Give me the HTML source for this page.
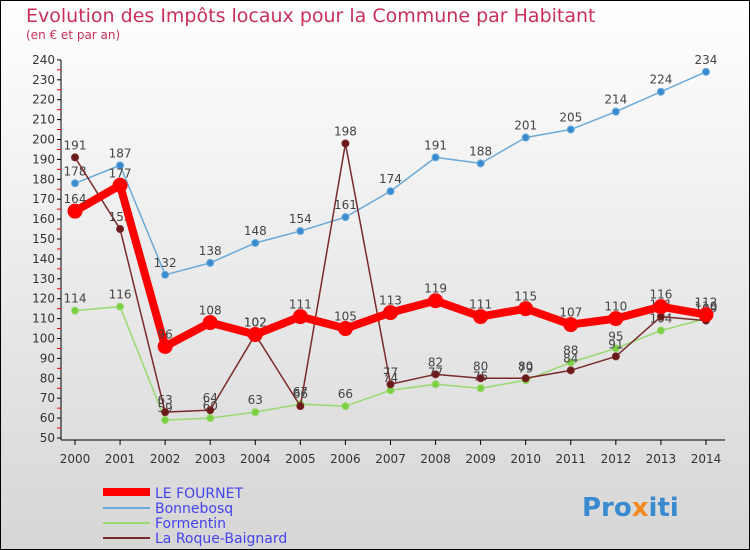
<!DOCTYPE html>
<html><head><meta charset="utf-8"><style>
body{margin:0}
svg{display:block;font-family:"DejaVu Sans","Liberation Sans",sans-serif}
</style></head><body>
<svg id="c" width="750" height="550" viewBox="0 0 750 550">
<defs><linearGradient id="bg" x1="0" y1="0" x2="0" y2="1"><stop offset="0" stop-color="#ffffff"/><stop offset="1" stop-color="#d6d6d6"/></linearGradient></defs>
<rect x="0.5" y="0.5" width="749" height="549" fill="url(#bg)" stroke="#000"/>
<text x="26" y="22" font-size="19" fill="#c8305a">Evolution des Impôts locaux pour la Commune par Habitant</text>
<text x="26" y="39" font-size="12" fill="#c8305a">(en € et par an)</text>
<g id="axes"></g><g id="series"></g>
<g>
<line x1="103" y1="492" x2="150" y2="492" stroke="#ff0000" stroke-width="8"/>
<text x="155" y="498" font-size="14" fill="#4444ee">LE FOURNET</text>
<line x1="103" y1="508" x2="150" y2="508" stroke="#6aaad8" stroke-width="2"/>
<text x="155" y="513" font-size="14" fill="#4444ee">Bonnebosq</text>
<line x1="103" y1="523" x2="150" y2="523" stroke="#9ad870" stroke-width="2"/>
<text x="155" y="528" font-size="14" fill="#4444ee">Formentin</text>
<line x1="103" y1="538" x2="150" y2="538" stroke="#7a2a2a" stroke-width="2"/>
<text x="155" y="543" font-size="14" fill="#4444ee">La Roque-Baignard</text>
</g>
<text x="582" y="516" font-size="26" font-weight="bold" fill="#3a8ad0">Pro<tspan fill="#f08a20">x</tspan>iti</text>
</svg>
<script>
const years=[2000,2001,2002,2003,2004,2005,2006,2007,2008,2009,2010,2011,2012,2013,2014];
const yTicks=[50,60,70,80,90,100,110,120,130,140,150,160,170,180,190,200,210,220,230,240];
const leFournet=[164,177,96,108,102,111,105,113,119,111,115,107,110,116,112];
const bonnebosq=[178,187,132,138,148,154,161,174,191,188,201,205,214,224,234];
const formentin=[114,116,59,60,63,67,66,74,77,75,79,88,95,104,110];
const laRoque=[191,155,63,64,102,66,198,77,82,80,80,84,91,111,109];
const NS='http://www.w3.org/2000/svg';
const xs=i=>75+i*45.07;
const ys=v=>438-(v-50)*19.9/10;
function mk(t,a,p){const e=document.createElementNS(NS,t);for(const k in a)e.setAttribute(k,a[k]);p.appendChild(e);return e;}
const ax=document.getElementById('axes');
let l=mk('line',{x1:61,y1:60,x2:61,y2:440,stroke:'#000'},ax);


l=mk('line',{x1:61,y1:440,x2:725,y2:440,stroke:'#000'},ax);


yTicks.forEach(v=>{
 const y=ys(v);
 mk('line',{x1:57,y1:y,x2:61,y2:y,stroke:'#000'},ax);
 if(v<240)mk('line',{x1:57,y1:ys(v+5),x2:61,y2:ys(v+5),stroke:'#e00'},ax);
 const t=mk('text',{x:55,y:y+4,'font-size':12,'text-anchor':'end',fill:'#333'},ax);t.textContent=v;
 
 
});
years.forEach((yr,i)=>{
 mk('line',{x1:xs(i),y1:440,x2:xs(i),y2:445,stroke:'#000'},ax);
 const t=mk('text',{x:xs(i),y:463,'font-size':12,'text-anchor':'middle',fill:'#333'},ax);t.textContent=yr;
 
 
});
const sg=document.getElementById('series');
function draw(vals,name,col,w,r,dot){
 const g=mk('g',{},sg);
 
 
 const p=mk('polyline',{points:vals.map((v,i)=>xs(i)+','+ys(v)).join(' '),fill:'none',stroke:col,'stroke-width':w,'stroke-linejoin':'round'},g);
 
 
 vals.forEach((v,i)=>{
  const c=mk('circle',{cx:xs(i),cy:ys(v),r:r,fill:dot,stroke:col,'stroke-width':1},g);
  
  
  const t=mk('text',{x:xs(i),y:ys(v)-8,'font-size':12,'text-anchor':'middle',fill:'#444'},g);t.textContent=v;
  
  
 });
}
draw(bonnebosq,'bonnebosq','#6aaad8',1.5,3.5,'#3a8ad0');
draw(formentin,'formentin','#9ad870',1.5,3.5,'#7ad040');
draw(laRoque,'la-roque-baignard','#7a2a2a',1.5,3.5,'#6a1a1a');
draw(leFournet,'le-fournet','#ff0000',8,7,'#ff0000');
</script>
</body></html>
